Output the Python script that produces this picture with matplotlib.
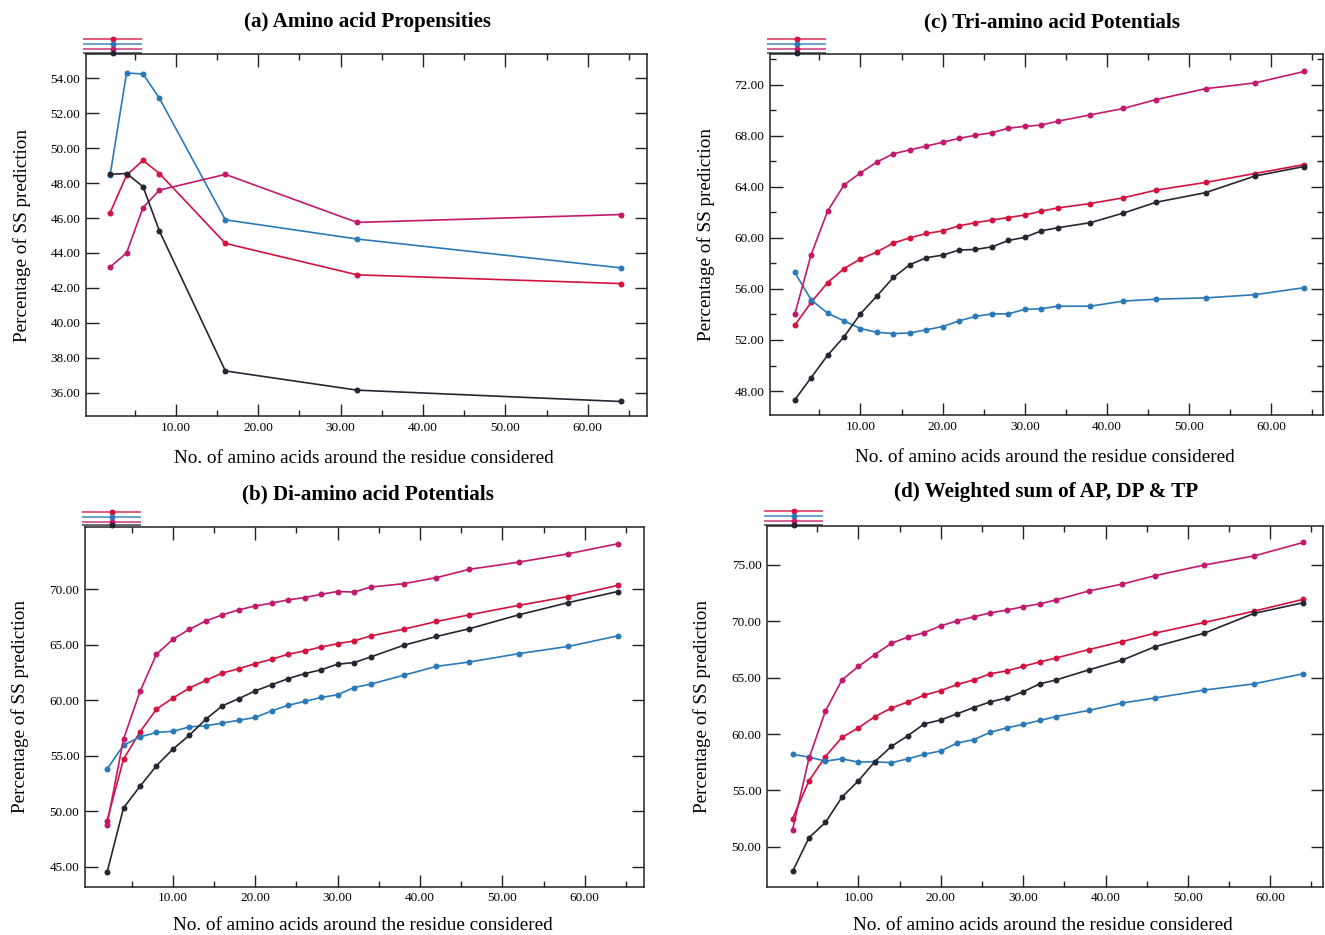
import matplotlib
matplotlib.use('Agg')
import matplotlib.pyplot as plt
from matplotlib.ticker import FixedLocator, FormatStrFormatter

plt.rcParams['font.family'] = ['Liberation Serif', 'DejaVu Serif']

# ---------------- data ----------------
x_short = [2, 4, 6, 8, 16, 32, 64]
x_long = [2, 4, 6, 8, 10, 12, 14, 16, 18, 20, 22, 24, 26, 28, 30, 32, 34,
          38, 42, 46, 52, 58, 64]

# (a) Amino acid Propensities
a_red = [46.3, 48.45, 49.3, 48.55, 44.55, 42.75, 42.25]
a_blue = [48.45, 54.3, 54.25, 52.85, 45.9, 44.8, 43.15]
a_magenta = [43.2, 44.0, 46.6, 47.6, 48.5, 45.75, 46.2]
a_dark = [48.5, 48.55, 47.8, 45.25, 37.25, 36.15, 35.5]

# (b) Di-amino acid Potentials
b_red = [49.15, 54.7, 57.15, 59.2, 60.2, 61.1, 61.8, 62.45, 62.85, 63.3, 63.7,
         64.15, 64.45, 64.8, 65.1, 65.35, 65.8, 66.4, 67.1, 67.7, 68.55, 69.35, 70.35]
b_blue = [53.8, 55.95, 56.7, 57.1, 57.2, 57.6, 57.7, 57.95, 58.2, 58.45, 59.05,
          59.55, 59.9, 60.25, 60.5, 61.15, 61.45, 62.25, 63.05, 63.45, 64.2, 64.85, 65.8]
b_magenta = [48.8, 56.5, 60.8, 64.15, 65.5, 66.4, 67.15, 67.7, 68.15, 68.5, 68.75,
             69.05, 69.25, 69.55, 69.8, 69.75, 70.2, 70.5, 71.05, 71.8, 72.45, 73.2, 74.1]
b_dark = [44.5, 50.3, 52.25, 54.1, 55.6, 56.85, 58.3, 59.5, 60.15, 60.85, 61.4,
          61.95, 62.4, 62.75, 63.25, 63.4, 63.9, 64.95, 65.75, 66.45, 67.7, 68.8, 69.8]

# (c) Tri-amino acid Potentials
c_red = [53.15, 54.95, 56.5, 57.6, 58.35, 58.9, 59.6, 60.0, 60.35, 60.55, 60.95,
         61.2, 61.4, 61.6, 61.8, 62.1, 62.35, 62.7, 63.15, 63.75, 64.35, 65.05, 65.75]
c_blue = [57.3, 55.15, 54.1, 53.5, 52.9, 52.6, 52.5, 52.55, 52.8, 53.05, 53.5,
          53.85, 54.05, 54.05, 54.4, 54.45, 54.65, 54.65, 55.05, 55.2, 55.3, 55.55, 56.1]
c_magenta = [54.0, 58.7, 62.1, 64.15, 65.1, 65.95, 66.6, 66.9, 67.2, 67.5, 67.8,
             68.05, 68.25, 68.6, 68.75, 68.85, 69.15, 69.65, 70.15, 70.85, 71.7, 72.15, 73.05]
c_dark = [47.3, 49.05, 50.8, 52.25, 54.05, 55.45, 56.9, 57.9, 58.45, 58.65, 59.05,
          59.1, 59.3, 59.8, 60.05, 60.55, 60.8, 61.2, 61.95, 62.8, 63.55, 64.85, 65.6]

# (d) Weighted sum of AP, DP & TP
d_red = [52.5, 55.85, 58.0, 59.7, 60.55, 61.55, 62.3, 62.85, 63.45, 63.85, 64.4,
         64.8, 65.35, 65.6, 66.0, 66.4, 66.75, 67.5, 68.2, 68.95, 69.9, 70.9, 71.95]
d_blue = [58.2, 57.95, 57.6, 57.8, 57.5, 57.55, 57.45, 57.8, 58.2, 58.5, 59.2,
          59.5, 60.15, 60.55, 60.85, 61.2, 61.55, 62.1, 62.75, 63.2, 63.9, 64.45, 65.35]
d_magenta = [51.5, 57.85, 62.05, 64.8, 66.0, 67.05, 68.05, 68.6, 69.0, 69.6, 70.05,
             70.4, 70.75, 71.0, 71.3, 71.55, 71.9, 72.7, 73.3, 74.05, 75.0, 75.8, 77.0]
d_dark = [47.8, 50.8, 52.15, 54.4, 55.85, 57.55, 58.9, 59.85, 60.9, 61.25, 61.8,
          62.35, 62.85, 63.2, 63.75, 64.45, 64.8, 65.7, 66.55, 67.75, 68.95, 70.7, 71.65]

titles = ['(a) Amino acid Propensities', '(b) Di-amino acid Potentials',
          '(c) Tri-amino acid Potentials', '(d) Weighted sum of AP, DP & TP']
xlabel = 'No. of amino acids around the residue considered'
ylabel = 'Percentage of SS prediction'

x_major = [10, 20, 30, 40, 50, 60]
x_minor = [5, 15, 25, 35, 45, 55, 65]
a_yticks = [36, 38, 40, 42, 44, 46, 48, 50, 52, 54]
b_yticks = [45, 50, 55, 60, 65, 70]
c_yticks = [48, 52, 56, 60, 64, 68, 72]
c_yminor = [50, 54, 58, 62, 66, 70, 74]
d_yticks = [50, 55, 60, 65, 70, 75]

RED = '#d3123f'
BLUE = '#2a7ab8'
MAGENTA = '#c3196c'
DARK = '#262633'

# ---------------- layout ----------------
W, H = 1325, 935
fig = plt.figure(figsize=(W / 100, H / 100), dpi=100)


def box(l, r, t, b):
    return [l / W, 1 - b / H, (r - l) / W, (b - t) / H]


panels = [
    dict(rect=(85.7, 647, 54, 416), x=x_short,
         series=[a_red, a_blue, a_magenta, a_dark], title=titles[0],
         xlim=(-0.96, 67.2), ylim=(34.67, 55.39), yt=a_yticks, ym=[],
         title_xy=(368, 22), ylab_x=22, xlab_base=463),
    dict(rect=(85, 644, 526.7, 886.7), x=x_long,
         series=[b_red, b_blue, b_magenta, b_dark], title=titles[1],
         xlim=(-0.68, 67.2), ylim=(43.2, 75.64), yt=b_yticks, ym=[],
         title_xy=(368, 494), ylab_x=20, xlab_base=930),
    dict(rect=(770, 1323, 54, 415), x=x_long,
         series=[c_red, c_blue, c_magenta, c_dark], title=titles[2],
         xlim=(-1.01, 66.3), ylim=(46.12, 74.42), yt=c_yticks, ym=c_yminor,
         title_xy=(1052, 22), ylab_x=706, xlab_base=462),
    dict(rect=(767, 1323, 526, 886.7), x=x_long,
         series=[d_red, d_blue, d_magenta, d_dark], title=titles[3],
         xlim=(-1.1, 66.4), ylim=(46.45, 78.46), yt=d_yticks, ym=[],
         title_xy=(1046, 492), ylab_x=702, xlab_base=930),
]

colors = [RED, BLUE, MAGENTA, DARK]

for p in panels:
    l, r, t, b = p['rect']
    ax = fig.add_axes(box(l, r, t, b))
    for ys, c in zip(p['series'], colors):
        ax.plot(p['x'], ys, color=c, lw=1.2, marker='o', ms=4.3,
                markeredgewidth=0, zorder=3)
    ax.set_xlim(*p['xlim'])
    ax.set_ylim(*p['ylim'])
    ax.xaxis.set_major_locator(FixedLocator(x_major))
    ax.xaxis.set_minor_locator(FixedLocator(x_minor))
    ax.yaxis.set_major_locator(FixedLocator(p['yt']))
    ax.yaxis.set_minor_locator(FixedLocator(p['ym']))
    ax.xaxis.set_major_formatter(FormatStrFormatter('%.2f'))
    ax.yaxis.set_major_formatter(FormatStrFormatter('%.2f'))
    ax.tick_params(which='both', direction='in', top=True, right=True,
                   width=1.0, color='#222222')
    ax.tick_params(which='major', length=9, labelsize=9.5, pad=4)
    ax.tick_params(which='minor', length=4.5)
    for s in ax.spines.values():
        s.set_linewidth(1.1)
        s.set_color('#222222')

    # titles and axis labels
    tx, ty = p['title_xy']
    fig.text(tx / W, 1 - ty / H, p['title'], ha='center', va='center',
             fontsize=15.2, fontweight='bold')
    fig.text(((l + r) / 2 - 2) / W, 1 - p['xlab_base'] / H, xlabel,
             ha='center', va='baseline', fontsize=13.8)
    fig.text(p['ylab_x'] / W, 1 - ((t + b) / 2) / H, ylabel, ha='center',
             va='center', rotation=90, fontsize=13.8)

    # small key above the upper-left corner (four stacked short lines)
    offs = [15, 10, 5, 1.3]
    for c, o in zip(colors, offs):
        yy = 1 + o / (b - t)
        ax.plot([-3 / (r - l), 56 / (r - l)], [yy, yy], transform=ax.transAxes,
                color=c, lw=1.3, alpha=0.75, clip_on=False, solid_capstyle='butt')
        ax.plot([27 / (r - l)], [yy], transform=ax.transAxes, color=c,
                marker='o', ms=4.3, markeredgewidth=0, clip_on=False)

fig.savefig('out.png', dpi=100)
